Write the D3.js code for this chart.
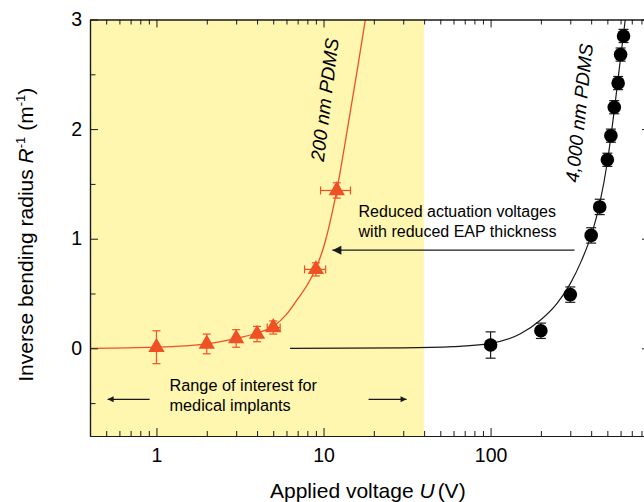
<!DOCTYPE html>
<html lang="en">
<head>
<meta charset="UTF-8">
<title>Inverse bending radius vs applied voltage</title>
<script src="https://cdn.jsdelivr.net/npm/d3@7"></script>
<style>
  body { margin: 0; background: #fff; }
  svg { display: block; font-family: Arial, 'Liberation Sans', sans-serif; }
</style>
</head>
<body>
<div id="root"></div>
<script>
// 200 nm PDMS (triangles)
const thinU = [1, 2, 3, 4, 5, 9, 12]
const thinR = [0.01, 0.04, 0.09, 0.13, 0.19, 0.72, 1.44]
const thinErrR = [0.15, 0.09, 0.08, 0.07, 0.06, 0.06, 0.07]
const thinULo = [1, 2, 3, 4, 4.6, 7.7, 9.6]
const thinUHi = [1, 2, 3, 4, 5.5, 10.3, 14.5]

// 4,000 nm PDMS (circles)
const thickU = [100, 200, 300, 400, 450, 500, 525, 550, 580, 600, 625]
const thickR = [0.03, 0.16, 0.49, 1.03, 1.29, 1.72, 1.94, 2.20, 2.42, 2.68, 2.85]
const thickErrR = [0.12, 0.07, 0.07, 0.07, 0.07, 0.06, 0.06, 0.06, 0.06, 0.06, 0.06]

// fitted curves
const thinFitU = [0.4, 1, 2, 3, 4, 5, 6, 7, 8, 9, 10, 12, 14, 16, 17.8]
const thinFitR = [0.0, 0.01, 0.04, 0.09, 0.14, 0.20, 0.31, 0.45, 0.58, 0.73, 0.92, 1.44, 2.03, 2.56, 3.0]
const thickFitU = [6.3, 30, 60, 100, 150, 200, 250, 300, 350, 400, 450, 500, 550, 600, 640]
const thickFitR = [0.0, 0.004, 0.015, 0.045, 0.13, 0.26, 0.41, 0.59, 0.8, 1.03, 1.32, 1.7, 2.17, 2.65, 3.0]

// axes
const xDomain = [0.4, 900]
const yDomain = [-0.8, 3]
const xMajor = [1, 10, 100]
const xMajorLabels = ['1', '10', '100']
const yMajor = [0, 1, 2, 3]
const yMinor = [-0.5, 0.5, 1.5, 2.5]
const shadeRange = [0.4, 40]

const W = 644, H = 502
const margin = { top: 19.5, left: 90, bottom: 66, right: -6 }
const red = '#ef5124'
const ink = '#1a1a1a'

const svg = d3.select('#root').append('svg')
  .attr('width', W).attr('height', H)

const x = d3.scaleLog().domain(xDomain).range([margin.left, W - margin.right])
const y = d3.scaleLinear().domain(yDomain).range([H - margin.bottom, margin.top])

svg.append('defs').append('clipPath').attr('id', 'plot-clip')
  .append('rect')
  .attr('x', x(xDomain[0])).attr('y', y(yDomain[1]))
  .attr('width', x(xDomain[1]) - x(xDomain[0]))
  .attr('height', y(yDomain[0]) - y(yDomain[1]))

// range of interest shading
svg.append('rect')
  .attr('x', x(shadeRange[0]))
  .attr('y', y(yDomain[1]))
  .attr('width', x(shadeRange[1]) - x(shadeRange[0]))
  .attr('height', y(yDomain[0]) - y(yDomain[1]))
  .attr('fill', '#fff6b0')

const plot = svg.append('g').attr('clip-path', 'url(#plot-clip)')

const line = d3.line()
  .x(d => x(d[0]))
  .y(d => y(d[1]))
  .curve(d3.curveMonotoneX)

plot.append('path')
  .datum(thinFitU.map((u, i) => [u, thinFitR[i]]))
  .attr('d', line)
  .attr('fill', 'none').attr('stroke', red).attr('stroke-width', 1.3)

plot.append('path')
  .datum(thickFitU.map((u, i) => [u, thickFitR[i]]))
  .attr('d', line)
  .attr('fill', 'none').attr('stroke', ink).attr('stroke-width', 1.2)

// error bars
function errorBars(g, us, rs, errs, color, cap) {
  us.forEach((u, i) => {
    const cx = x(u)
    const y0 = y(rs[i] - errs[i]), y1 = y(rs[i] + errs[i])
    g.append('line').attr('x1', cx).attr('x2', cx).attr('y1', y0).attr('y2', y1)
      .attr('stroke', color).attr('stroke-width', 1.2)
    ;[y0, y1].forEach(yy => g.append('line')
      .attr('x1', cx - cap).attr('x2', cx + cap).attr('y1', yy).attr('y2', yy)
      .attr('stroke', color).attr('stroke-width', 1.2))
  })
}
const bars = svg.append('g')
errorBars(bars, thinU, thinR, thinErrR, red, 4)
errorBars(bars, thickU, thickR, thickErrR, ink, 5)

// horizontal error bars for the thin film
thinU.forEach((u, i) => {
  if (thinUHi[i] - thinULo[i] <= 0) return
  const cy = y(thinR[i])
  const xa = x(thinULo[i]), xb = x(thinUHi[i])
  bars.append('line').attr('x1', xa).attr('x2', xb).attr('y1', cy).attr('y2', cy)
    .attr('stroke', red).attr('stroke-width', 1.2)
  ;[xa, xb].forEach(xx => bars.append('line')
    .attr('x1', xx).attr('x2', xx).attr('y1', cy - 4).attr('y2', cy + 4)
    .attr('stroke', red).attr('stroke-width', 1.2))
})

// markers
svg.append('g').selectAll('path')
  .data(thinU)
  .enter().append('path')
  .attr('d', d3.symbol(d3.symbolTriangle).size(115))
  .attr('transform', (d, i) => `translate(${x(d)},${y(thinR[i])})`)
  .attr('fill', red)

svg.append('g').selectAll('circle')
  .data(thickU)
  .enter().append('circle')
  .attr('cx', d => x(d))
  .attr('cy', (d, i) => y(thickR[i]))
  .attr('r', 6.8)
  .attr('fill', '#000')

// axes
const minorX = x.ticks().filter(t => !xMajor.includes(t))
const tickStyle = g => {
  g.selectAll('path.domain').attr('stroke', ink).attr('stroke-width', 1.2)
  g.selectAll('.tick line').attr('stroke', ink).attr('stroke-width', 1)
  g.selectAll('.tick text').attr('fill', '#000').style('font-size', '19.5px')
}
const yBottom = y(yDomain[0]), yTop = y(yDomain[1])
const xLeft = x(xDomain[0]), xRight = x(xDomain[1])

svg.append('g').attr('transform', `translate(0,${yBottom})`)
  .call(d3.axisBottom(x).tickValues(xMajor).tickFormat((d, i) => xMajorLabels[i])
    .tickSizeInner(-8).tickSizeOuter(0).tickPadding(12))
  .call(tickStyle)
svg.append('g').attr('transform', `translate(0,${yBottom})`)
  .call(d3.axisBottom(x).tickValues(minorX).tickFormat('').tickSizeInner(-5).tickSizeOuter(0))
  .call(tickStyle)
svg.append('g').attr('transform', `translate(0,${yTop})`)
  .call(d3.axisTop(x).tickValues(xMajor).tickFormat('').tickSizeInner(-8).tickSizeOuter(0))
  .call(tickStyle)
svg.append('g').attr('transform', `translate(0,${yTop})`)
  .call(d3.axisTop(x).tickValues(minorX).tickFormat('').tickSizeInner(-5).tickSizeOuter(0))
  .call(tickStyle)

svg.append('g').attr('transform', `translate(${xLeft},0)`)
  .call(d3.axisLeft(y).tickValues(yMajor).tickFormat(d3.format('d'))
    .tickSizeInner(-8).tickSizeOuter(0).tickPadding(8))
  .call(tickStyle)
svg.append('g').attr('transform', `translate(${xLeft},0)`)
  .call(d3.axisLeft(y).tickValues(yMinor).tickFormat('').tickSizeInner(-5.5).tickSizeOuter(0))
  .call(tickStyle)
svg.append('g').attr('transform', `translate(${xRight},0)`)
  .call(d3.axisRight(y).tickValues(yMajor).tickFormat('').tickSizeInner(-8).tickSizeOuter(0))
  .call(tickStyle)
svg.append('g').attr('transform', `translate(${xRight},0)`)
  .call(d3.axisRight(y).tickValues(yMinor).tickFormat('').tickSizeInner(-5.5).tickSizeOuter(0))
  .call(tickStyle)

// axis titles
const xTitle = svg.append('text')
  .attr('x', 270).attr('y', 498)
  .style('font-size', '21px').attr('fill', '#000')
xTitle.append('tspan').text('Applied voltage ')
xTitle.append('tspan').style('font-style', 'italic').text('U')
xTitle.append('tspan').attr('dx', 3).text('(V)')

const yTitle = svg.append('text')
  .attr('transform', `translate(33,${(yTop + yBottom) / 2 + 7}) rotate(-90)`)
  .attr('text-anchor', 'middle')
  .style('font-size', '21px').attr('fill', '#000')
yTitle.append('tspan').text('Inverse bending radius ')
yTitle.append('tspan').style('font-style', 'italic').text('R')
yTitle.append('tspan').attr('dy', -8).style('font-size', '13px').text('-1')
yTitle.append('tspan').attr('dy', 8).text(' (m')
yTitle.append('tspan').attr('dy', -8).style('font-size', '13px').text('-1')
yTitle.append('tspan').attr('dy', 8).text(')')

// curve labels (centred on their rotated baseline + half cap height)
svg.append('text')
  .attr('transform', `translate(${x(10.1) + 7},${y(2.26)}) rotate(-83)`)
  .attr('text-anchor', 'middle')
  .style('font-size', '19px').style('font-style', 'italic').attr('fill', '#000')
  .text('200 nm PDMS')
svg.append('text')
  .attr('transform', `translate(${x(337) + 7},${y(2.14)}) rotate(-84)`)
  .attr('text-anchor', 'middle')
  .style('font-size', '19px').style('font-style', 'italic').attr('fill', '#000')
  .text('4,000 nm PDMS')

// annotation arrows
const defs = svg.select('defs')
defs.append('marker')
  .attr('id', 'head').attr('viewBox', '0 0 10 10')
  .attr('refX', 10).attr('refY', 5)
  .attr('markerUnits', 'userSpaceOnUse')
  .attr('markerWidth', 15).attr('markerHeight', 9)
  .attr('orient', 'auto')
  .append('path').attr('d', 'M0,0 L10,5 L0,10 Z').attr('fill', ink)
defs.append('marker')
  .attr('id', 'head-small').attr('viewBox', '0 0 10 10')
  .attr('refX', 10).attr('refY', 5)
  .attr('markerUnits', 'userSpaceOnUse')
  .attr('markerWidth', 11).attr('markerHeight', 6)
  .attr('orient', 'auto')
  .append('path').attr('d', 'M0,0 L10,5 L0,10 Z').attr('fill', ink)

const arrow = (u0, u1, r, head) => svg.append('line')
  .attr('x1', x(u0)).attr('x2', x(u1)).attr('y1', y(r)).attr('y2', y(r))
  .attr('stroke', ink).attr('stroke-width', 1.3)
  .attr('marker-end', `url(#${head})`)
arrow(318, 11.3, 0.895, 'head')
arrow(0.91, 0.51, -0.465, 'head-small')
arrow(18.6, 31.4, -0.465, 'head-small')

const note = (lines, u, r, size) => {
  const t = svg.append('text').attr('x', x(u)).attr('y', y(r))
    .style('font-size', size).attr('fill', '#000')
  lines.forEach((s, i) => t.append('tspan').attr('x', x(u)).attr('dy', i ? 20 : 0).text(s))
}
note(['Reduced actuation voltages', 'with reduced EAP thickness'], 16.2, 1.194, '16px')
note(['Range of interest for', 'medical implants'], 1.196, -0.393, '16.3px')
</script>
</body>
</html>
